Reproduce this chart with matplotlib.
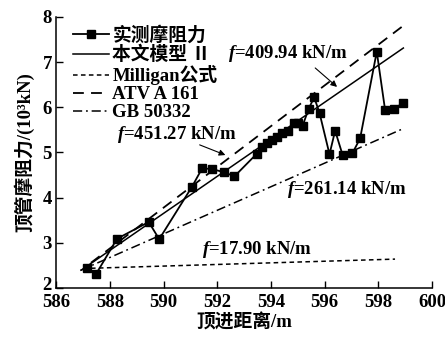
import matplotlib.pyplot as plt
import matplotlib.transforms as mtransforms
import numpy as np

plt.rcParams['font.family'] = ['Liberation Serif', 'Noto Sans CJK SC']
plt.rcParams['mathtext.fontset'] = 'custom'
plt.rcParams['mathtext.it'] = 'Liberation Serif:italic:bold'
plt.rcParams['mathtext.rm'] = 'Liberation Serif:bold'

# measured jacking friction (10^3 kN) against jacking distance (m)
dist = [587.14, 587.49, 588.27, 589.45, 589.84, 591.06, 591.44, 591.82, 592.27,
        592.64, 593.47, 593.68, 593.84, 594.03, 594.21, 594.40, 594.65, 594.84,
        595.02, 595.18, 595.40, 595.61, 595.81, 596.18, 596.39, 596.67, 597.03,
        597.32, 597.94, 598.25, 598.60, 598.90]
friction = [2.45, 2.31, 3.09, 3.46, 3.08, 4.24, 4.65, 4.63, 4.56,
            4.47, 4.97, 5.13, 5.20, 5.28, 5.35, 5.42, 5.48, 5.65,
            5.66, 5.59, 5.96, 6.22, 5.87, 4.96, 5.48, 4.94, 4.98,
            5.31, 7.23, 5.94, 5.97, 6.09]

# unit friction of each method, kN/m
f_model = 409.94
f_milligan = 17.90
f_atv = 451.27
f_gb = 261.14

x0, y0 = 586.95, 2.40

fig = plt.figure(figsize=(4.45, 3.38), dpi=100)
ax = fig.add_axes([0.126, 0.148, 0.845, 0.802])

def calc_line(f, x_start, x_end):
    xs = np.array([x_start, x_end])
    return xs, y0 + f / 1000 * (xs - x0)

ax.plot(dist, friction, '-s', color='black', lw=1.3, ms=5.5, label='实测摩阻力')
xs, ys = calc_line(f_model, x0, 598.93)
ax.plot(xs, ys, '-', color='black', lw=1.1, label='本文模型 Ⅱ')
xs, ys = calc_line(f_milligan, 587.3, 598.62)
ax.plot(xs, ys + 0.03, color='black', lw=1.1, dashes=(3, 2.2), label='Milligan公式')
xs, ys = calc_line(f_atv, 587.3, 598.87)
ax.plot(xs, ys, color='black', lw=1.3, dashes=(6, 4), label='ATV A 161')
xs, ys = calc_line(f_gb, 586.9, 598.93)
ax.plot(xs, ys, color='black', lw=1.1, dashes=(6, 2.5, 1.2, 2.5), label='GB 50332')

arrow = dict(arrowstyle='-|>', color='black', lw=0.8, mutation_scale=9)
fs = 13.5
ax.text(594.64, 7.2, r'$f$=409.94 kN/m', ha='center', va='center',
        fontsize=fs, fontweight='bold')
ax.annotate('', xy=(596.54, 6.41), xytext=(595.57, 6.91), arrowprops=arrow)
ax.text(590.5, 5.39, r'$f$=451.27 kN/m', ha='center', va='center',
        fontsize=fs, fontweight='bold')
ax.annotate('', xy=(592.4, 4.92), xytext=(591.25, 5.19), arrowprops=arrow)
ax.text(596.83, 4.17, r'$f$=261.14 kN/m', ha='center', va='center',
        fontsize=fs, fontweight='bold')
ax.text(593.48, 2.86, r'$f$=17.90 kN/m', ha='center', va='center',
        fontsize=fs, fontweight='bold')

ax.set_xlim(586, 600)
ax.set_ylim(2, 8)
ax.set_xticks(np.arange(586, 601, 2))
ax.set_yticks(np.arange(2, 9, 1))
ax.tick_params(direction='in', length=5, width=1, labelsize=fs)
ax.tick_params(axis='x', pad=4)
ax.tick_params(axis='y', pad=3)
for lab in ax.get_xticklabels() + ax.get_yticklabels():
    lab.set_fontweight('bold')
# lift the lowest y label a little so it clears the first x label
lift = mtransforms.ScaledTranslation(0, 3 / 72, fig.dpi_scale_trans)
ax.get_yticklabels()[0].set_transform(ax.get_yticklabels()[0].get_transform() + lift)
for s in ['top', 'right']:
    ax.spines[s].set_visible(False)
for s in ['left', 'bottom']:
    ax.spines[s].set_linewidth(1.1)

ax.set_xlabel('顶进距离/m', fontsize=fs, fontweight='bold', labelpad=2)
ax.set_ylabel('顶管摩阻力/(10³kN)', fontsize=fs, fontweight='bold', labelpad=6)

ax.legend(loc='upper left', bbox_to_anchor=(0.02, 1.0), frameon=False,
          prop={'size': fs, 'weight': 'bold'}, handlelength=1.9,
          handletextpad=0.2, labelspacing=0.05, borderaxespad=0.1)

fig.savefig('out.png', dpi=100)
